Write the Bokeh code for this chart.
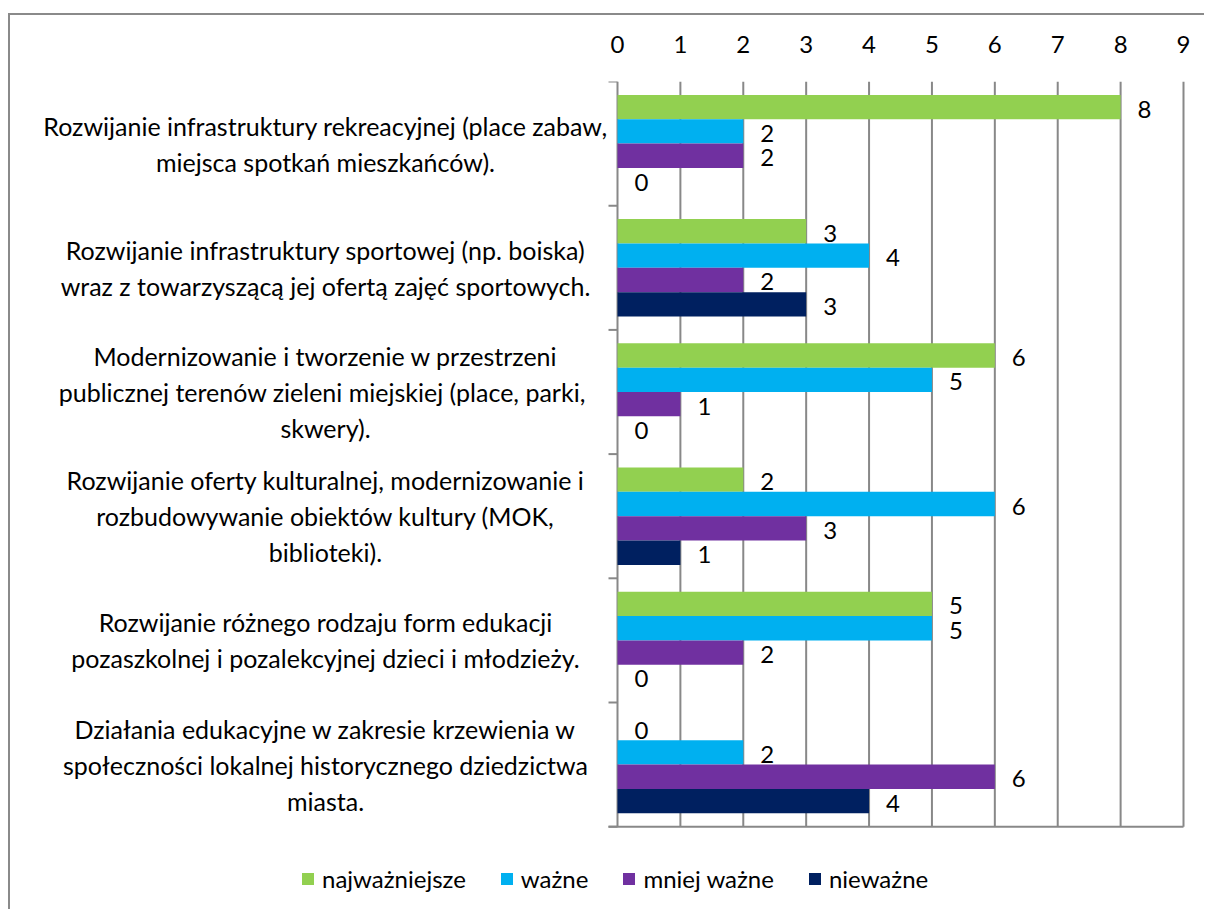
from bokeh.plotting import figure
from bokeh.models import Range1d, FixedTicker, Legend, LegendItem, ColumnDataSource
from bokeh.core.properties import value
from bokeh.embed import file_html
from bokeh.resources import INLINE

# ---------------- data ----------------
categories = [
    "Rozwijanie infrastruktury rekreacyjnej (place zabaw,\nmiejsca spotkań mieszkańców).",
    "Rozwijanie infrastruktury sportowej (np. boiska)\nwraz z towarzyszącą jej ofertą zajęć sportowych.",
    "Modernizowanie i tworzenie w przestrzeni\npublicznej  terenów zieleni miejskiej (place, parki,\nskwery).",
    "Rozwijanie oferty kulturalnej, modernizowanie i\nrozbudowywanie obiektów kultury (MOK,\nbiblioteki).",
    "Rozwijanie różnego rodzaju form edukacji\npozaszkolnej i pozalekcyjnej dzieci i młodzieży.",
    "Działania edukacyjne w zakresie krzewienia w\nspołeczności lokalnej historycznego dziedzictwa\nmiasta.",
]
series_names = ["najważniejsze", "ważne", "mniej ważne", "nieważne"]
najwazniejsze = [8, 3, 6, 2, 5, 0]
wazne = [2, 4, 5, 6, 5, 2]
mniej_wazne = [2, 2, 1, 3, 2, 6]
niewazne = [0, 3, 0, 1, 0, 4]
x_ticks = [0, 1, 2, 3, 4, 5, 6, 7, 8, 9]

series_values = [najwazniejsze, wazne, mniej_wazne, niewazne]
colors = ["#92D050", "#00B0F0", "#7030A0", "#002060"]

# ---------------- layout / style ----------------
FONT = "Lato"
FS = "24px"
FS_CAT = "25px"
TXT = "#000000"
GRID = "#888888"
W, H = 1196, 896
n = len(categories)
x_max = x_ticks[-1]

AXIS_PX = 607          # pixel position of value 0 inside the figure
PLOT_PX = 566          # pixel width of 0..9
TOP_PX = 66            # pixel position of the first category boundary
BAND_PX = 124.2        # pixel height of one category band
PPU = PLOT_PX / x_max  # pixels per value unit

BAR_H = 0.196
TICK = 9 / PPU
LABEL_X = (315 - AXIS_PX) / PPU

p = figure(
    width=W, height=H, output_backend="svg", toolbar_location=None,
    x_range=Range1d(-AXIS_PX / PPU, (W - AXIS_PX) / PPU),
    y_range=Range1d((H - TOP_PX) / BAND_PX, 0),
    x_axis_location="above", y_axis_location=None,
    min_border_left=0, min_border_right=0, min_border_bottom=0, min_border_top=TOP_PX,
)
p.styles = {"border-top": "2px solid #8a8a8a", "border-left": "2px solid #8a8a8a",
            "margin-top": "13px", "margin-left": "8px"}
p.outline_line_color = None
p.background_fill_color = "white"
p.border_fill_color = "white"
p.grid.visible = False

# top value axis
xa = p.xaxis[0]
xa.ticker = FixedTicker(ticks=x_ticks)
xa.axis_line_color = None
xa.major_tick_line_color = None
xa.minor_tick_line_color = None
xa.major_label_text_font = FONT
xa.major_label_text_font_size = FS
xa.major_label_text_color = TXT
xa.major_label_standoff = 23

# vertical gridlines
p.segment(x0=x_ticks[1:], x1=x_ticks[1:], y0=0, y1=n, line_color=GRID, line_width=2)
# category axis line + boundary ticks + bottom line
p.segment(x0=0, x1=0, y0=0, y1=n, line_color=GRID, line_width=2)
bounds = list(range(n + 1))
p.segment(x0=-TICK, x1=0, y0=bounds, y1=bounds, line_color=GRID, line_width=2)
p.segment(x0=-TICK, x1=x_max, y0=n, y1=n, line_color=GRID, line_width=2)

# category labels (centered lines)
p.text(x=LABEL_X, y=[i + 0.5 for i in range(n)], text=categories,
       text_align="center", text_baseline="middle", text_line_height=1.2,
       text_font=value(FONT), text_font_size=FS_CAT, text_color=TXT)

# bars + value labels
items = []
for j, (name, vals, col) in enumerate(zip(series_names, series_values, colors)):
    ys = [i + 0.5 + (j - 1.5) * BAR_H for i in range(n)]
    src = ColumnDataSource(dict(y=ys, v=vals, t=[str(v) for v in vals]))
    r = p.hbar(y="y", left=0, right="v", height=BAR_H, source=src,
               fill_color=col, line_color=None)
    p.text(x="v", y="y", text="t", source=src, x_offset=17, y_offset=2,
           text_align="left", text_baseline="middle",
           text_font=value(FONT), text_font_size=FS, text_color=TXT)
    items.append(LegendItem(label=name, renderers=[r]))

legend = Legend(items=items, orientation="horizontal", location=(290, 18),
                glyph_width=15, glyph_height=15, label_standoff=7, spacing=33,
                padding=0, margin=0, border_line_color=None, background_fill_alpha=0,
                label_text_font=FONT, label_text_font_size=FS, label_text_color=TXT,
                label_height=26)
p.add_layout(legend, "center")

open("out.html", "w").write(file_html(p, INLINE))
